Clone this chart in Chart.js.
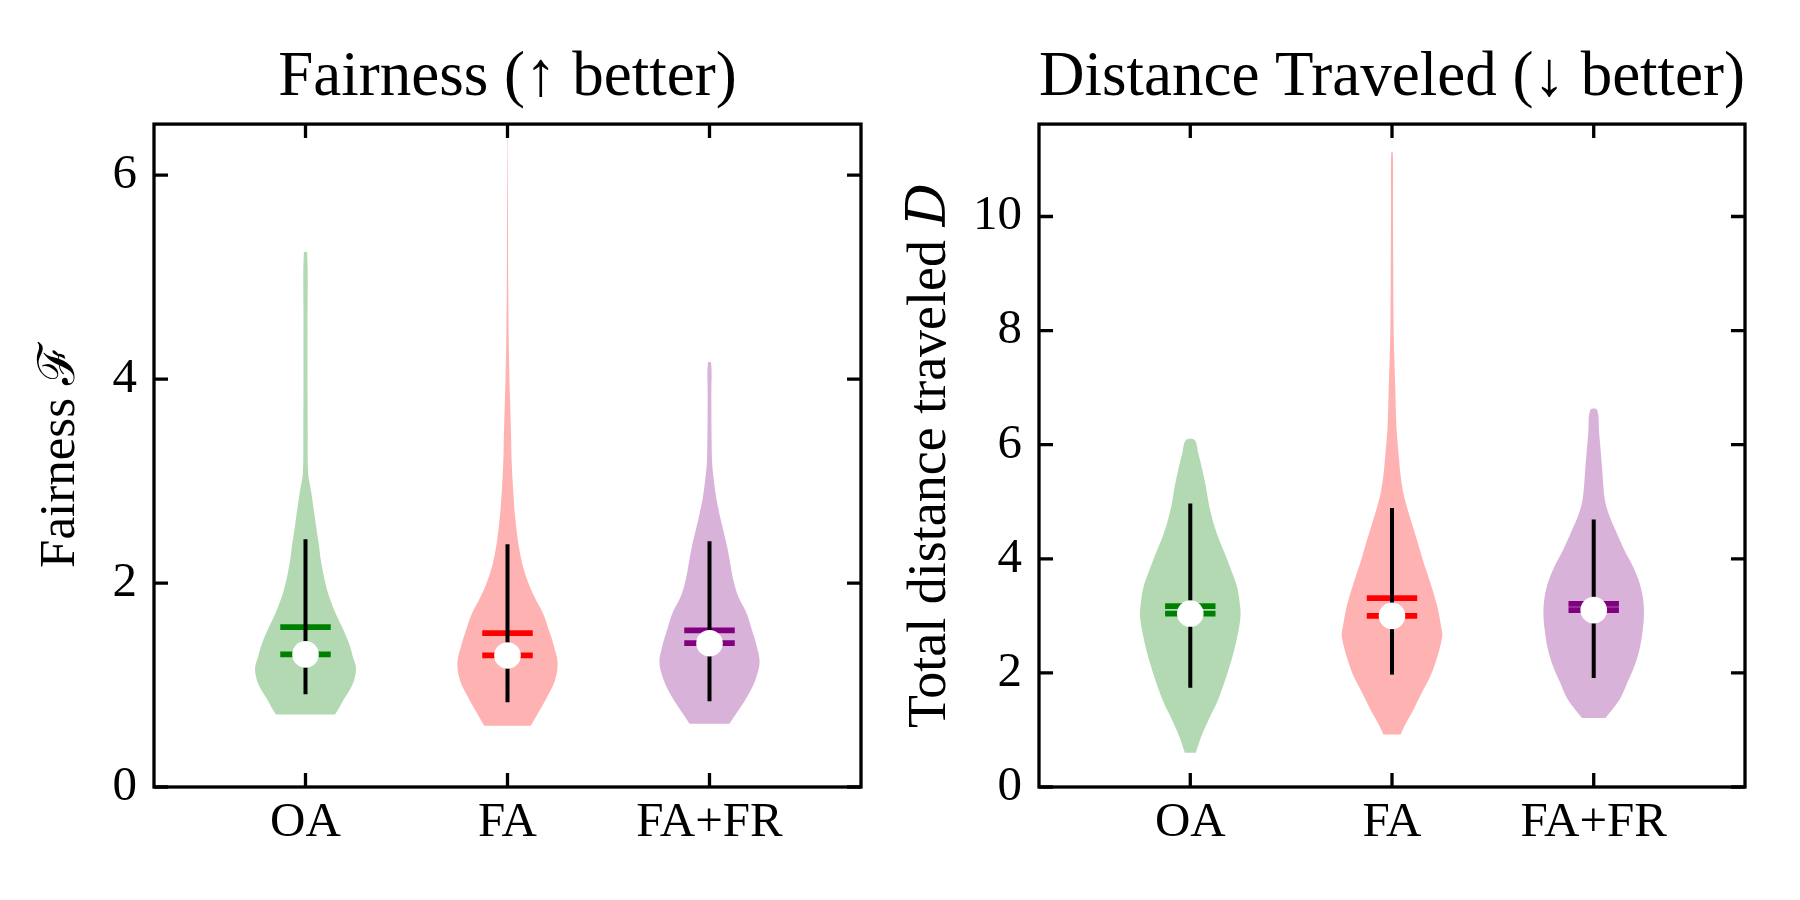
<!DOCTYPE html>
<html>
<head>
<meta charset="utf-8">
<script src="https://cdn.jsdelivr.net/npm/chart.js@4.4.1/dist/chart.umd.min.js"></script>
<style>
  html, body { margin: 0; padding: 0; background: #fff; }
  #fairness { position: absolute; left: 0; top: 0; }
  #distance { position: absolute; left: 880px; top: 0; }
</style>
</head>
<body>
<canvas id="fairness" width="900" height="900"></canvas>
<canvas id="distance" width="920" height="900"></canvas>
<script>
// categories and where they sit on the x axis
const categories = ['OA', 'FA', 'FA+FR'];
const positions = [1, 2, 3];
const fairTicks = [0, 2, 4, 6];
const distTicks = [0, 2, 4, 6, 8, 10];

// summary lines (mean, median, whisker ends)
const fairMean = [1.567, 1.508, 1.535];
const fairMedian = [1.30, 1.29, 1.41];
const fairLow = [0.91, 0.83, 0.84];
const fairHigh = [2.43, 2.38, 2.41];
const distMean = [3.17, 3.31, 3.21];
const distMedian = [3.04, 3.00, 3.10];
const distLow = [1.74, 1.97, 1.91];
const distHigh = [4.97, 4.89, 4.69];

// violin outlines: value levels and half-widths
const fairOaLevels = [0.71, 0.78, 0.86, 0.94, 1.02, 1.08, 1.15, 1.20, 1.28, 1.37, 1.45, 1.53, 1.61, 1.69, 1.77, 1.85, 1.94, 2.02, 2.10, 2.18, 2.26, 2.35, 2.43, 2.59, 2.75, 2.92, 3.08, 3.5, 4.0, 4.6, 5.24];
const fairOaWidths = [0.146, 0.168, 0.19, 0.215, 0.236, 0.245, 0.25, 0.247, 0.234, 0.222, 0.207, 0.19, 0.171, 0.152, 0.135, 0.12, 0.106, 0.096, 0.087, 0.08, 0.073, 0.068, 0.062, 0.05, 0.039, 0.026, 0.013, 0.011, 0.01, 0.01, 0.008];
const fairFaLevels = [0.60, 0.73, 0.89, 1.05, 1.22, 1.38, 1.54, 1.71, 1.87, 2.03, 2.20, 2.36, 2.52, 2.69, 2.85, 3.18, 3.51, 4.16, 4.81, 5.5, 6.0, 6.43];
const fairFaWidths = [0.115, 0.153, 0.198, 0.236, 0.248, 0.23, 0.205, 0.174, 0.132, 0.098, 0.072, 0.056, 0.045, 0.036, 0.03, 0.021, 0.017, 0.008, 0.004, 0.0025, 0.0015, 0.0005];
const fairFrLevels = [0.62, 0.73, 0.89, 1.05, 1.22, 1.38, 1.54, 1.71, 1.87, 2.03, 2.20, 2.36, 2.52, 2.69, 2.85, 3.02, 3.18, 3.51, 3.85, 4.16];
const fairFrWidths = [0.099, 0.136, 0.188, 0.227, 0.248, 0.234, 0.21, 0.182, 0.142, 0.118, 0.102, 0.087, 0.068, 0.048, 0.032, 0.021, 0.013, 0.01, 0.009, 0.008];
const distOaLevels = [0.60, 0.89, 1.18, 1.48, 1.77, 2.06, 2.35, 2.64, 2.99, 3.23, 3.52, 3.81, 4.11, 4.40, 4.69, 4.98, 5.27, 5.57, 5.86, 6.08];
const distOaWidths = [0.027, 0.055, 0.091, 0.132, 0.163, 0.19, 0.214, 0.233, 0.249, 0.245, 0.231, 0.202, 0.169, 0.136, 0.11, 0.091, 0.077, 0.059, 0.039, 0.022];
const distFaLevels = [0.92, 1.07, 1.36, 1.65, 1.94, 2.23, 2.64, 2.82, 3.11, 3.40, 3.70, 3.99, 4.28, 4.57, 4.86, 5.16, 5.45, 5.74, 6.32, 6.91, 7.49, 8.08, 9.25, 10.2, 11.12];
const distFaWidths = [0.043, 0.062, 0.107, 0.148, 0.19, 0.22, 0.249, 0.243, 0.228, 0.206, 0.179, 0.152, 0.128, 0.103, 0.078, 0.056, 0.043, 0.035, 0.022, 0.017, 0.012, 0.008, 0.006, 0.005, 0.004];
const distFrLevels = [1.21, 1.53, 1.83, 2.12, 2.41, 2.70, 2.99, 3.29, 3.58, 3.87, 4.16, 4.46, 4.75, 5.04, 5.62, 6.21, 6.61];
const distFrWidths = [0.058, 0.128, 0.167, 0.202, 0.227, 0.241, 0.249, 0.245, 0.227, 0.194, 0.151, 0.113, 0.078, 0.055, 0.041, 0.027, 0.017];

const lineColors = ['green', 'red', 'purple'];
const bodyColors = ['rgba(0,128,0,0.3)', 'rgba(255,0,0,0.3)', 'rgba(128,0,128,0.3)'];
const SERIF = '"Liberation Serif", "DejaVu Serif", serif';

// spines and inward ticks on all four sides, like matplotlib
const frame = {
  id: 'frame',
  afterDraw(chart) {
    const { ctx, chartArea: a, scales: { x, y } } = chart;
    const len = 14;
    ctx.save();
    ctx.strokeStyle = '#000';
    ctx.lineWidth = 3.3;
    ctx.beginPath();
    x.ticks.forEach(t => {
      const px = x.getPixelForValue(t.value);
      ctx.moveTo(px, a.bottom); ctx.lineTo(px, a.bottom - len);
      ctx.moveTo(px, a.top); ctx.lineTo(px, a.top + len);
    });
    y.ticks.forEach(t => {
      const py = y.getPixelForValue(t.value);
      ctx.moveTo(a.left, py); ctx.lineTo(a.left + len, py);
      ctx.moveTo(a.right, py); ctx.lineTo(a.right - len, py);
    });
    ctx.stroke();
    ctx.strokeRect(a.left, a.top, a.right - a.left, a.bottom - a.top);
    ctx.restore();
  }
};

function buildDatasets(shapes, mean, median, low, high) {
  const sets = [];
  shapes.forEach(([levels, widths], i) => {
    const c = positions[i];
    const right = levels.map((v, k) => ({ x: c + widths[k], y: v }));
    const left = levels.map((v, k) => ({ x: c - widths[k], y: v })).reverse();
    sets.push({
      data: right.concat(left), showLine: true, fill: 'shape',
      backgroundColor: bodyColors[i], borderColor: 'transparent', borderWidth: 0,
      pointRadius: 0, tension: 0.35, order: 4
    });
    [mean[i], median[i]].forEach(v => {
      sets.push({
        data: [{ x: c - 0.125, y: v }, { x: c + 0.125, y: v }], showLine: true,
        borderColor: lineColors[i], borderWidth: 5.8, borderCapStyle: 'butt',
        pointRadius: 0, order: 3
      });
    });
    sets.push({
      data: [{ x: c, y: low[i] }, { x: c, y: high[i] }], showLine: true,
      borderColor: '#000', borderWidth: 4, borderCapStyle: 'butt',
      pointRadius: 0, order: 2
    });
    sets.push({
      data: [{ x: c, y: median[i] }], showLine: false,
      pointRadius: 13.3, pointBackgroundColor: '#fff', pointBorderColor: '#fff',
      pointBorderWidth: 0, order: 1
    });
  });
  return sets;
}

function makePanel(id, p) {
  new Chart(document.getElementById(id), {
    type: 'scatter',
    data: { datasets: buildDatasets(p.shapes, p.mean, p.median, p.low, p.high) },
    options: {
      responsive: false,
      animation: false,
      devicePixelRatio: 1,
      events: [],
      layout: { padding: { left: 0, right: p.padRight, top: 0, bottom: 0 } },
      plugins: {
        legend: { display: false },
        tooltip: { enabled: false },
        title: {
          display: true, text: p.title, fullSize: false, color: '#000',
          font: { family: SERIF, size: 63, weight: 'normal' },
          padding: { top: 41, bottom: 7.5 }
        }
      },
      scales: {
        x: {
          type: 'linear', min: 0.25, max: 3.75,
          afterBuildTicks: s => { s.ticks = positions.map(v => ({ value: v })); },
          afterFit: s => { s.height = 113; },
          grid: { display: false, drawTicks: false },
          border: { display: false },
          ticks: {
            color: '#000', padding: 7, maxRotation: 0, autoSkip: false,
            font: { family: SERIF, size: 49 },
            callback: v => categories[positions.indexOf(v)]
          }
        },
        y: {
          min: 0, max: p.yMax,
          afterBuildTicks: s => { s.ticks = p.yTicks.map(v => ({ value: v })); },
          afterFit: s => { s.width = p.axisWidth; },
          grid: { display: false, drawTicks: false },
          border: { display: false },
          ticks: { color: '#000', padding: 17, font: { family: SERIF, size: 49 } },
          title: {
            display: true, text: p.yLabel, color: '#000',
            font: { family: SERIF, size: p.labelSize },
            padding: { top: p.titlePad, bottom: 0 }
          }
        }
      }
    },
    plugins: [frame]
  });
}

makePanel('fairness', {
  title: 'Fairness (\u2191 better)',
  yLabel: 'Fairness \u2131',
  shapes: [[fairOaLevels, fairOaWidths], [fairFaLevels, fairFaWidths], [fairFrLevels, fairFrWidths]],
  mean: fairMean, median: fairMedian, low: fairLow, high: fairHigh,
  yMax: 6.5, yTicks: fairTicks, axisWidth: 154, padRight: 39, titlePad: 30, labelSize: 51
});

makePanel('distance', {
  title: 'Distance Traveled (\u2193 better)',
  yLabel: 'Total distance traveled \uD835\uDC37',
  shapes: [[distOaLevels, distOaWidths], [distFaLevels, distFaWidths], [distFrLevels, distFrWidths]],
  mean: distMean, median: distMedian, low: distLow, high: distHigh,
  yMax: 11.62, yTicks: distTicks, axisWidth: 159, padRight: 55, titlePad: 18, labelSize: 54
});
</script>
</body>
</html>
